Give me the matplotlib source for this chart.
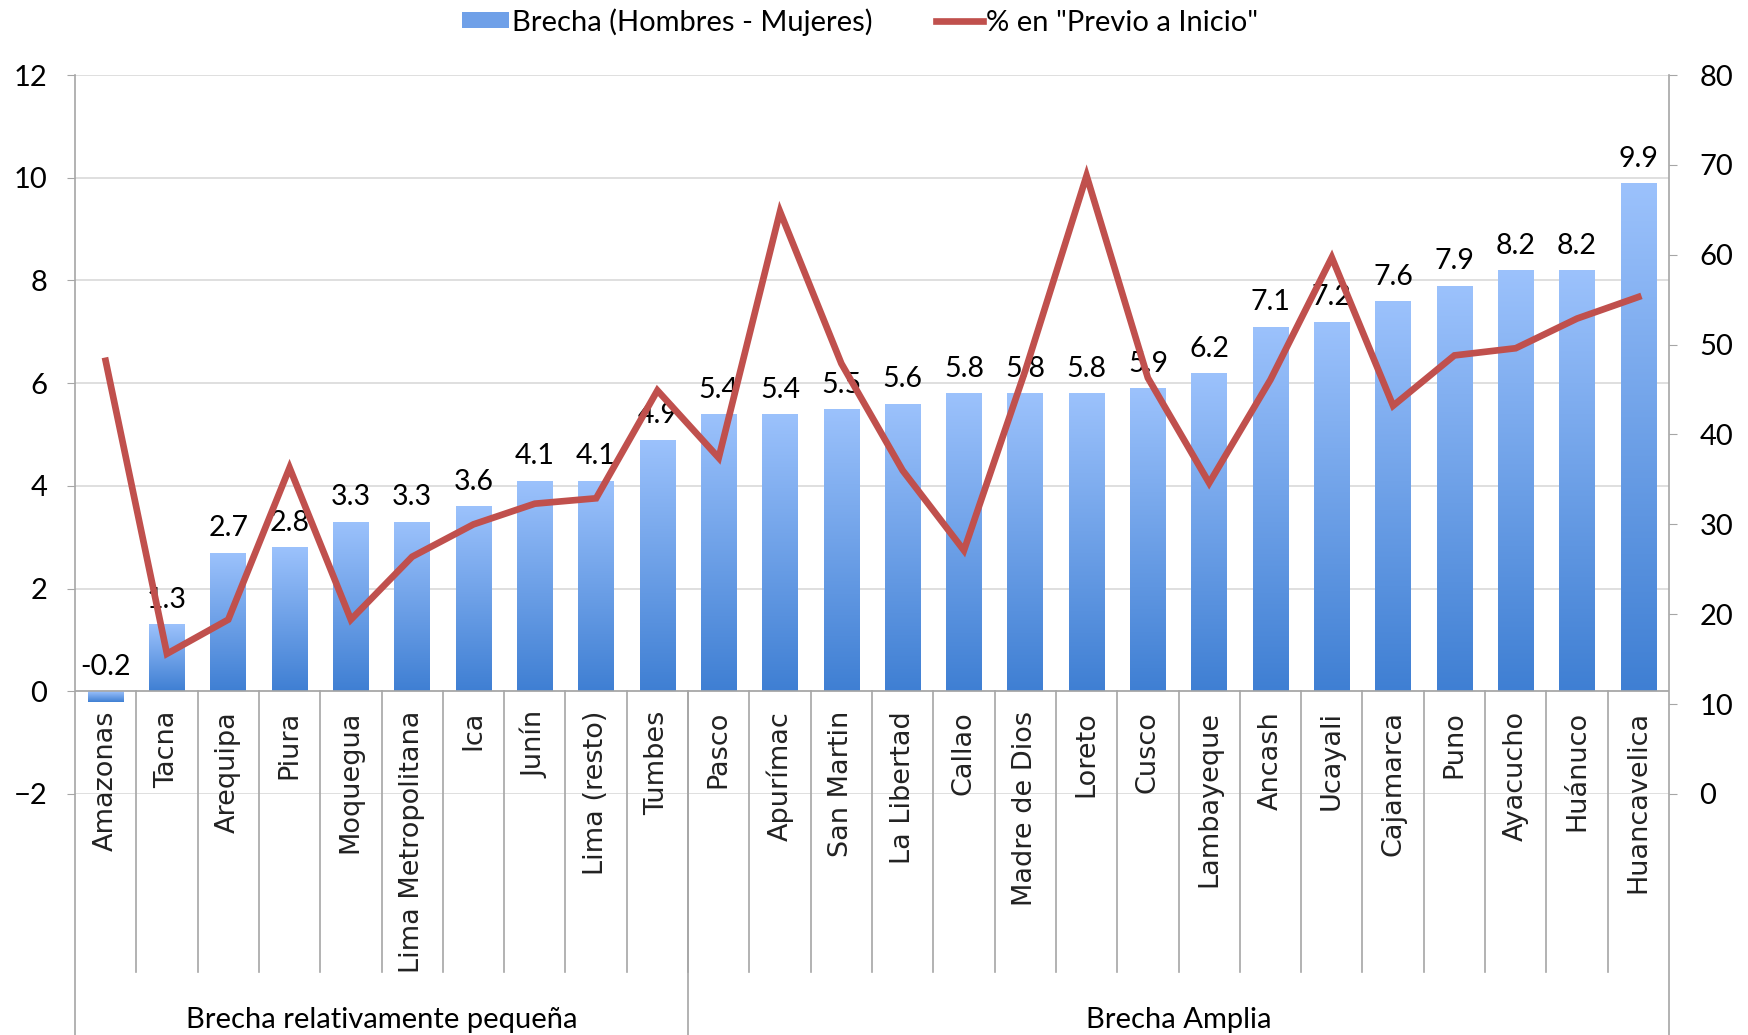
import numpy as np
import matplotlib
matplotlib.use("Agg")
from matplotlib import pyplot as plt
from matplotlib.colors import LinearSegmentedColormap
from matplotlib.patches import Patch
from matplotlib.lines import Line2D

regiones = ["Amazonas", "Tacna", "Arequipa", "Piura", "Moquegua", "Lima Metropolitana",
            "Ica", "Junín", "Lima (resto)", "Tumbes", "Pasco", "Apurímac", "San Martin",
            "La Libertad", "Callao", "Madre de Dios", "Loreto", "Cusco", "Lambayeque",
            "Ancash", "Ucayali", "Cajamarca", "Puno", "Ayacucho", "Huánuco", "Huancavelica"]
brecha = [-0.2, 1.3, 2.7, 2.8, 3.3, 3.3, 3.6, 4.1, 4.1, 4.9, 5.4, 5.4, 5.5, 5.6, 5.8,
          5.8, 5.8, 5.9, 6.2, 7.1, 7.2, 7.6, 7.9, 8.2, 8.2, 9.9]
previo_inicio = [48.2, 15.6, 19.4, 36.3, 19.4, 26.4, 30.0, 32.3, 32.9, 44.9, 37.4, 64.8,
                 47.9, 36.0, 27.1, 47.1, 68.8, 46.3, 34.6, 46.1, 59.7, 43.2, 48.8, 49.6,
                 52.9, 55.3]
grupos = ["Brecha relativamente pequeña", "Brecha Amplia"]
grupo_n = [10, 16]

narrow = ["Lato", "DejaVu Sans"]
RED = "#C0504D"
GRID = "#D9D9D9"
AXC = "#A6A6A6"

fig = plt.figure(figsize=(17.48, 10.35), dpi=100)
ax = fig.add_axes([0.0429, 0.2329, 0.9119, 0.6946])
ax2 = ax.twinx()

x = np.arange(len(regiones))

# gridlines
for v in range(-2, 13, 2):
    ax.axhline(v, color=GRID, lw=1.2, zorder=0)
ax.axhline(0, color=AXC, lw=1.2, zorder=3)

# gradient bars
cmap = LinearSegmentedColormap.from_list("barra", ["#3F7FD3", "#9CC2FC"])
grad = np.linspace(0, 1, 256).reshape(-1, 1)
bars = ax.bar(x, brecha, width=0.58, color="none", zorder=2)
for b, v in zip(bars, brecha):
    x0 = b.get_x()
    x1 = x0 + b.get_width()
    lo, hi = (0, v) if v >= 0 else (v, 0)
    im = ax.imshow(grad, extent=[x0, x1, lo, hi], origin="lower", aspect="auto",
                   cmap=cmap, zorder=2)
    im.set_clip_path(b)
ax.set_xlim(-0.5, len(regiones) - 0.5)
ax.set_ylim(-2, 12)
ax2.set_ylim(0, 80)

# data labels
for xi, v in zip(x, brecha):
    ax.text(xi, max(v, 0) + 0.22, f"{v:.1f}", ha="center", va="bottom",
            fontsize=20.5, family=narrow, zorder=5)

# red line
ax2.plot(x, previo_inicio, color=RED, lw=4.8, zorder=4, solid_joinstyle="miter")
ax2.patch.set_visible(False)

# axes styling
for a in (ax, ax2):
    for s in a.spines.values():
        s.set_visible(False)
ax.set_xticks([])
ax.set_yticks(range(-2, 13, 2))
ax.tick_params(axis="y", length=6, color=AXC, labelsize=21, pad=14)
ax2.set_yticks(range(0, 81, 10))
ax2.tick_params(axis="y", length=6, color=AXC, labelsize=21, pad=16)
for lab in ax.get_yticklabels() + ax2.get_yticklabels():
    lab.set_family(narrow)

# axis lines down to figure bottom
ybot = -6.69
ax.plot([-0.5, -0.5], [ybot, 12], color=AXC, lw=1.2, clip_on=False, zorder=3)
ax.plot([25.5, 25.5], [ybot, 12], color=AXC, lw=1.2, clip_on=False, zorder=3)

# category labels and separators
for xi, name in zip(x, regiones):
    ax.text(xi, -0.38, name, rotation=90, ha="center", va="top", fontsize=19.5,
            family="DejaVu Sans", color="#222222", clip_on=False)
for xi in x[1:]:
    ax.plot([xi - 0.5, xi - 0.5], [-5.47, 0], color=AXC, lw=1.2, clip_on=False, zorder=3)
start = 0
for g, n in zip(grupos, grupo_n):
    if start > 0:
        ax.plot([start - 0.5, start - 0.5], [ybot, 0], color=AXC, lw=1.2,
                clip_on=False, zorder=3)
    ax.text(start + n / 2 - 0.5, -6.4, g, ha="center", va="center", fontsize=21,
            family=narrow, clip_on=False)
    start += n

# legend
handles = [Patch(facecolor="#6FA0E8", edgecolor="none"),
           Line2D([0], [0], color=RED, lw=4.8)]
fig.legend(handles, ["Brecha (Hombres - Mujeres)", '% en "Previo a Inicio"'],
           loc="center", bbox_to_anchor=(0.492, 0.979), ncol=2, frameon=False,
           prop={"family": narrow, "size": 21}, handlelength=1.6, handleheight=0.5,
           handletextpad=0.1, columnspacing=2.2)

fig.savefig("out.png", dpi=100, facecolor="white")
